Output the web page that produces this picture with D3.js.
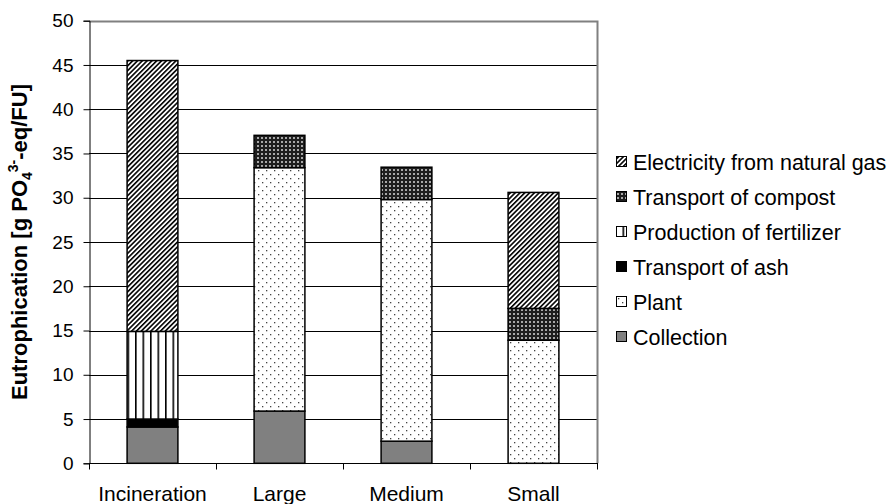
<!DOCTYPE html>
<html>
<head>
<meta charset="utf-8">
<script src="https://cdn.jsdelivr.net/npm/d3@7/dist/d3.min.js"></script>
<style>
  html, body { margin: 0; padding: 0; background: #fff; }
  svg { display: block; font-family: "Liberation Sans", Arial, sans-serif; }
</style>
</head>
<body>
<svg id="chart" width="896" height="504"></svg>
<script>
// ---- data ----
const categories = ["Incineration", "Large", "Medium", "Small"];
const seriesNames = ["Collection", "Plant", "Transport of ash", "Production of fertilizer", "Transport of compost", "Electricity from natural gas"];
const collection  = [4.1, 5.9, 2.5, 0];
const plant       = [0, 27.5, 27.3, 13.9];
const ash         = [0.9, 0, 0, 0];
const fertilizer  = [9.9, 0, 0, 0];
const compost     = [0, 3.65, 3.65, 3.6];
const electricity = [30.6, 0, 0, 13.1];
const yTicks = [0, 5, 10, 15, 20, 25, 30, 35, 40, 45, 50];

const seriesValues = [collection, plant, ash, fertilizer, compost, electricity];
const fills = ["#808080", "url(#pPlant)", "#000", "url(#pFert)", "url(#pCompost)", "url(#pElec)"];

const table = categories.map((c, i) => {
  const row = { cat: c };
  seriesNames.forEach((s, j) => row[s] = seriesValues[j][i]);
  return row;
});

const svg = d3.select("#chart");
const defs = svg.append("defs");

// patterns
const pe = defs.append("pattern").attr("id", "pElec").attr("patternUnits", "userSpaceOnUse")
  .attr("width", 3.4).attr("height", 3.4).attr("patternTransform", "rotate(45)");
pe.append("rect").attr("width", 3.4).attr("height", 3.4).attr("fill", "#fff");
pe.append("rect").attr("width", 1.6).attr("height", 3.4).attr("fill", "#000");

const pc = defs.append("pattern").attr("id", "pCompost").attr("patternUnits", "userSpaceOnUse")
  .attr("width", 4).attr("height", 4);
pc.append("rect").attr("width", 4).attr("height", 4).attr("fill", "#1e1e1e");
pc.append("rect").attr("x", 1).attr("y", 1).attr("width", 2).attr("height", 2).attr("fill", "#a8a8a8");

const pf = defs.append("pattern").attr("id", "pFert").attr("patternUnits", "userSpaceOnUse")
  .attr("width", 7.5).attr("height", 10);
pf.append("rect").attr("width", 7.5).attr("height", 10).attr("fill", "#fff");
pf.append("rect").attr("x", 0).attr("width", 1.6).attr("height", 10).attr("fill", "#000");

const pp = defs.append("pattern").attr("id", "pPlant").attr("patternUnits", "userSpaceOnUse")
  .attr("width", 8).attr("height", 8);
pp.append("rect").attr("width", 8).attr("height", 8).attr("fill", "#fff");
pp.append("rect").attr("x", 2).attr("y", 2).attr("width", 1.3).attr("height", 1.3).attr("fill", "#444");
pp.append("rect").attr("x", 6).attr("y", 6).attr("width", 1.3).attr("height", 1.3).attr("fill", "#444");

// scales
const x0 = 89, x1 = 597, yTop = 20.7, yBot = 463.3;
const x = d3.scaleBand().domain(categories).range([x0, x1]).paddingInner(0.6).paddingOuter(0.3);
const y = d3.scaleLinear().domain([0, 50]).range([yBot, yTop]);

// gridlines
svg.append("g").selectAll("line").data(yTicks.filter(t => t > 0 && t < 50)).join("line")
  .attr("x1", x0).attr("x2", x1)
  .attr("y1", d => Math.round(y(d)) + 0.5).attr("y2", d => Math.round(y(d)) + 0.5)
  .attr("stroke", "#000").attr("stroke-width", 1);

// plot border (top/right) gray
svg.append("path")
  .attr("d", `M${x0},${Math.round(y(50)) + 0.5} H${x1 + 0.5} V${yBot}`)
  .attr("fill", "none").attr("stroke", "#808080").attr("stroke-width", 2);

// stacked bars
const stack = d3.stack().keys(seriesNames)(table);
stack.forEach((layer, j) => {
  svg.append("g").selectAll("rect").data(layer.filter(d => d[1] - d[0] > 0)).join("rect")
    .attr("x", d => x(d.data.cat))
    .attr("width", x.bandwidth())
    .attr("y", d => y(d[1]))
    .attr("height", d => y(d[0]) - y(d[1]))
    .attr("fill", fills[j])
    .attr("stroke", "#000").attr("stroke-width", 1.5);
});

// y axis
const yAxis = d3.axisLeft(y).tickValues(yTicks).tickSize(6).tickPadding(10);
const gy = svg.append("g").attr("transform", `translate(${x0 + 0.5},0)`).call(yAxis);
gy.select(".domain").attr("stroke", "#000");
gy.selectAll(".tick line").attr("stroke", "#000");
gy.selectAll(".tick text").attr("font-size", 19).attr("fill", "#000")
  .attr("font-family", "Liberation Sans, Arial, sans-serif");

// x axis
const gx = svg.append("g").attr("transform", `translate(0,${Math.round(yBot) + 0.5})`);
gx.append("line").attr("x1", x0).attr("x2", x1 + 1).attr("stroke", "#000");
const bounds = categories.map(c => x(c) - x.step() * x.paddingInner() / 2).concat([x1]);
bounds[0] = x0;
gx.selectAll("line.tk").data(bounds).join("line").attr("class", "tk")
  .attr("x1", d => Math.round(d) + 0.5).attr("x2", d => Math.round(d) + 0.5)
  .attr("y1", 0).attr("y2", 6).attr("stroke", "#000");
gx.selectAll("text").data(categories).join("text")
  .attr("x", d => x(d) + x.bandwidth() / 2)
  .attr("y", 37)
  .attr("text-anchor", "middle")
  .attr("font-size", 21)
  .attr("fill", "#000")
  .text(d => d);

// y label
const yl = svg.append("text")
  .attr("transform", `translate(27,${(yTop + yBot) / 2}) rotate(-90)`)
  .attr("text-anchor", "middle")
  .attr("font-size", 22).attr("font-weight", "bold").attr("fill", "#000");
yl.append("tspan").text("Eutrophication [g PO");
yl.append("tspan").attr("font-size", 14).attr("dy", 5).text("4");
yl.append("tspan").attr("font-size", 14).attr("dy", -14).text("3-");
yl.append("tspan").attr("dy", 9).text("-eq/FU]");

// legend
const legendNames = seriesNames.slice().reverse();
const legendFills = fills.slice().reverse();
const lg = svg.append("g");
legendNames.forEach((n, i) => {
  const cy = 162 + i * 35;
  lg.append("rect").attr("x", 616.5).attr("y", cy - 5.5).attr("width", 10).attr("height", 10)
    .attr("fill", legendFills[i]).attr("stroke", "#000").attr("stroke-width", 1);
  lg.append("text").attr("x", 633).attr("y", cy + 8).attr("font-size", 21.5).attr("fill", "#000").text(n);
});
</script>
</body>
</html>
